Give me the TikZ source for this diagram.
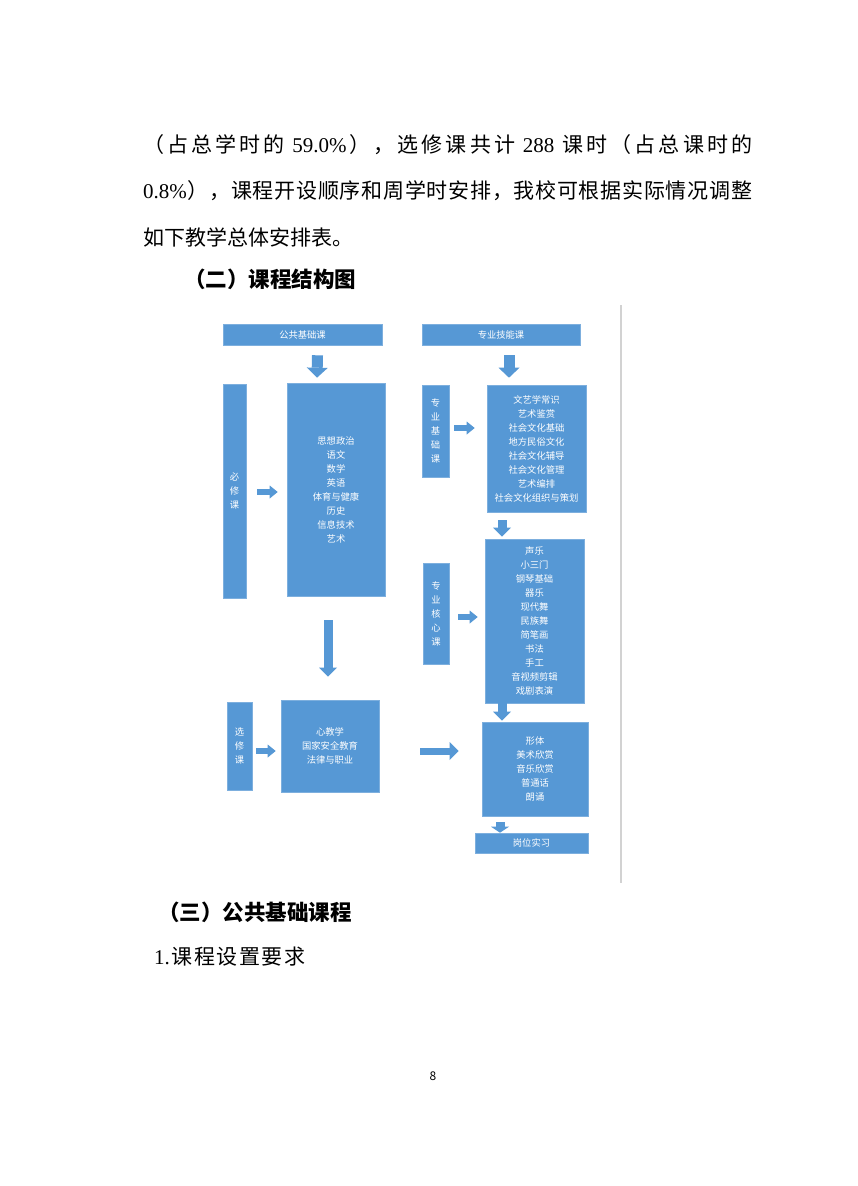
\documentclass[tikz,border=0pt]{standalone}
\usepackage{fontspec}
\setmainfont{Noto Sans CJK SC}
\newfontfamily\latin{Liberation Serif}
\usetikzlibrary{arrows.meta}
\usetikzlibrary{calc}
\definecolor{boxblue}{RGB}{86,152,213}
\definecolor{boxedge}{RGB}{125,175,222}
\newcommand\verteile[1]{\verteilschritt#1\relax}
\def\verteilschritt#1{\ifx\relax#1\else#1\hfill\expandafter\verteilschritt\fi}

\begin{document}
\begin{tikzpicture}[x=1pt,y=-1pt,
  box/.style={fill=boxblue,draw=boxedge,line width=0.6pt,text=white,inner sep=0pt,
    align=center,font=\fontsize{9.3}{14}\selectfont},
  bigdown/.style={boxblue,line width=11pt,-{Triangle[width=21pt,length=10pt,line width=0pt]}},
  longdown/.style={boxblue,line width=9pt,-{Triangle[width=18pt,length=9pt,line width=0pt]}},
  shortright/.style={boxblue,line width=6pt,-{Triangle[width=13pt,length=8pt,line width=0pt]}},
  body/.style={anchor=west,inner sep=0pt,font=\fontsize{21}{21}\selectfont},
  head/.style={anchor=west,inner sep=0pt,font=\fontsize{21.5}{22}\selectfont\bfseries}]
\fill[white] (0,0) rectangle (858,1186);
\node[body] (zeile1) at (143,145)
  {\hbox to609pt{\verteile{（占总学时的{{\ \latin 59.0\%}}），选修课共计{{\ \latin 288\ }}课时（占总课时的}\unskip}};
\node[body] (zeile2) at (143,191)
  {\hbox to609pt{\verteile{{{\latin 0.8\%}}），课程开设顺序和周学时安排，我校可根据实际情况调整}\unskip}};
\node[body] (zeile3) at (143,237) {如下教学总体安排表。};
\node[head] (titel2) at (184,279) {（二）课程结构图};
\draw[gray!35,line width=1.2pt] (621,305) -- (621,883);
\node[box,minimum width=159pt,minimum height=21pt] (gongji) at (302.5,334.5) {公共基础课};
\node[box,minimum width=158pt,minimum height=21pt] (jineng) at (501,334.5) {专业技能课};
\node[box,minimum width=23pt,minimum height=214pt] (bixiu) at (234.5,491) {必\\修\\课};
\node[box,minimum width=98pt,minimum height=213pt] (gonggong) at (336,489.5)
  {思想政治\\语文\\数学\\英语\\体育与健康\\历史\\信息技术\\艺术};
\node[box,minimum width=25pt,minimum height=88pt] (xuanxiu) at (239.5,746) {选\\修\\课};
\node[box,minimum width=98pt,minimum height=92pt] (xuanxiuke) at (330,746)
  {心教学\\国家安全教育\\法律与职业};
\node[box,minimum width=27pt,minimum height=92pt] (zyjc) at (435.5,431) {专\\业\\基\\础\\课};
\node[box,minimum width=99pt,minimum height=127pt] (jichuke) at (536.5,448.5)
  {文艺学常识\\艺术鉴赏\\社会文化基础\\地方民俗文化\\社会文化辅导\\社会文化管理\\艺术编排\\社会文化组织与策划};
\node[box,minimum width=26pt,minimum height=101pt] (zyhx) at (436,613.5) {专\\业\\核\\心\\课};
\node[box,minimum width=99pt,minimum height=164pt] (hexinke) at (534.5,621)
  {声乐\\小三门\\钢琴基础\\器乐\\现代舞\\民族舞\\简笔画\\书法\\手工\\音视频剪辑\\戏剧表演};
\node[box,minimum width=106pt,minimum height=94pt] (tuozhan) at (535,769)
  {形体\\美术欣赏\\音乐欣赏\\普通话\\朗诵};
\node[box,minimum width=113pt,minimum height=20pt] (shixi) at (531.5,843) {岗位实习};
\draw[bigdown] ($(gongji.south)+(15,10)$) -- ($(gonggong.north)+(-19,-5)$);
\draw[bigdown] ($(jineng.south)+(8,10)$) -- ($(jichuke.north)+(-27.5,-7)$);
\draw[shortright] ($(bixiu.east)+(11,1)$) -- ($(gonggong.west)+(-9,2.5)$);
\draw[shortright] ($(zyjc.east)+(5,-3)$) -- ($(jichuke.west)+(-12,-20.5)$);
\draw[shortright] ($(zyhx.east)+(9,3.5)$) -- ($(hexinke.west)+(-7,-4)$);
\draw[shortright] ($(xuanxiu.east)+(4,5)$) -- ($(xuanxiuke.west)+(-5,5)$);
\draw[longdown] ($(gonggong.south)+(-8,24)$) -- ($(xuanxiuke.north)+(-2,-23)$);
\draw[longdown,line width=7pt] ($(xuanxiuke.east)+(41,5)$) -- ($(tuozhan.west)+(-23,-18)$);
\draw[longdown] ($(jichuke.south)+(-34.5,8)$) -- ($(hexinke.north)+(-32.5,-2)$);
\draw[longdown] ($(hexinke.south)+(-32.5,0)$) -- ($(tuozhan.north)+(-33,-1)$);
\draw[longdown,-{Triangle[width=18pt,length=6pt,line width=0pt]}] ($(tuozhan.south)+(-35,6)$) -- ($(shixi.north)+(-31.5,0)$);
\node[head] (titel3) at (158,912) {（三）公共基础课程};
\node[body] (punkt1) at (154,957)
  {\hbox to151pt{\verteile{{{\latin 1.}}课程设置要求}\unskip}};
\node[inner sep=0pt,font=\fontsize{12}{12}\selectfont] (seite) at (433,1076) {8};
\end{tikzpicture}
\end{document}
